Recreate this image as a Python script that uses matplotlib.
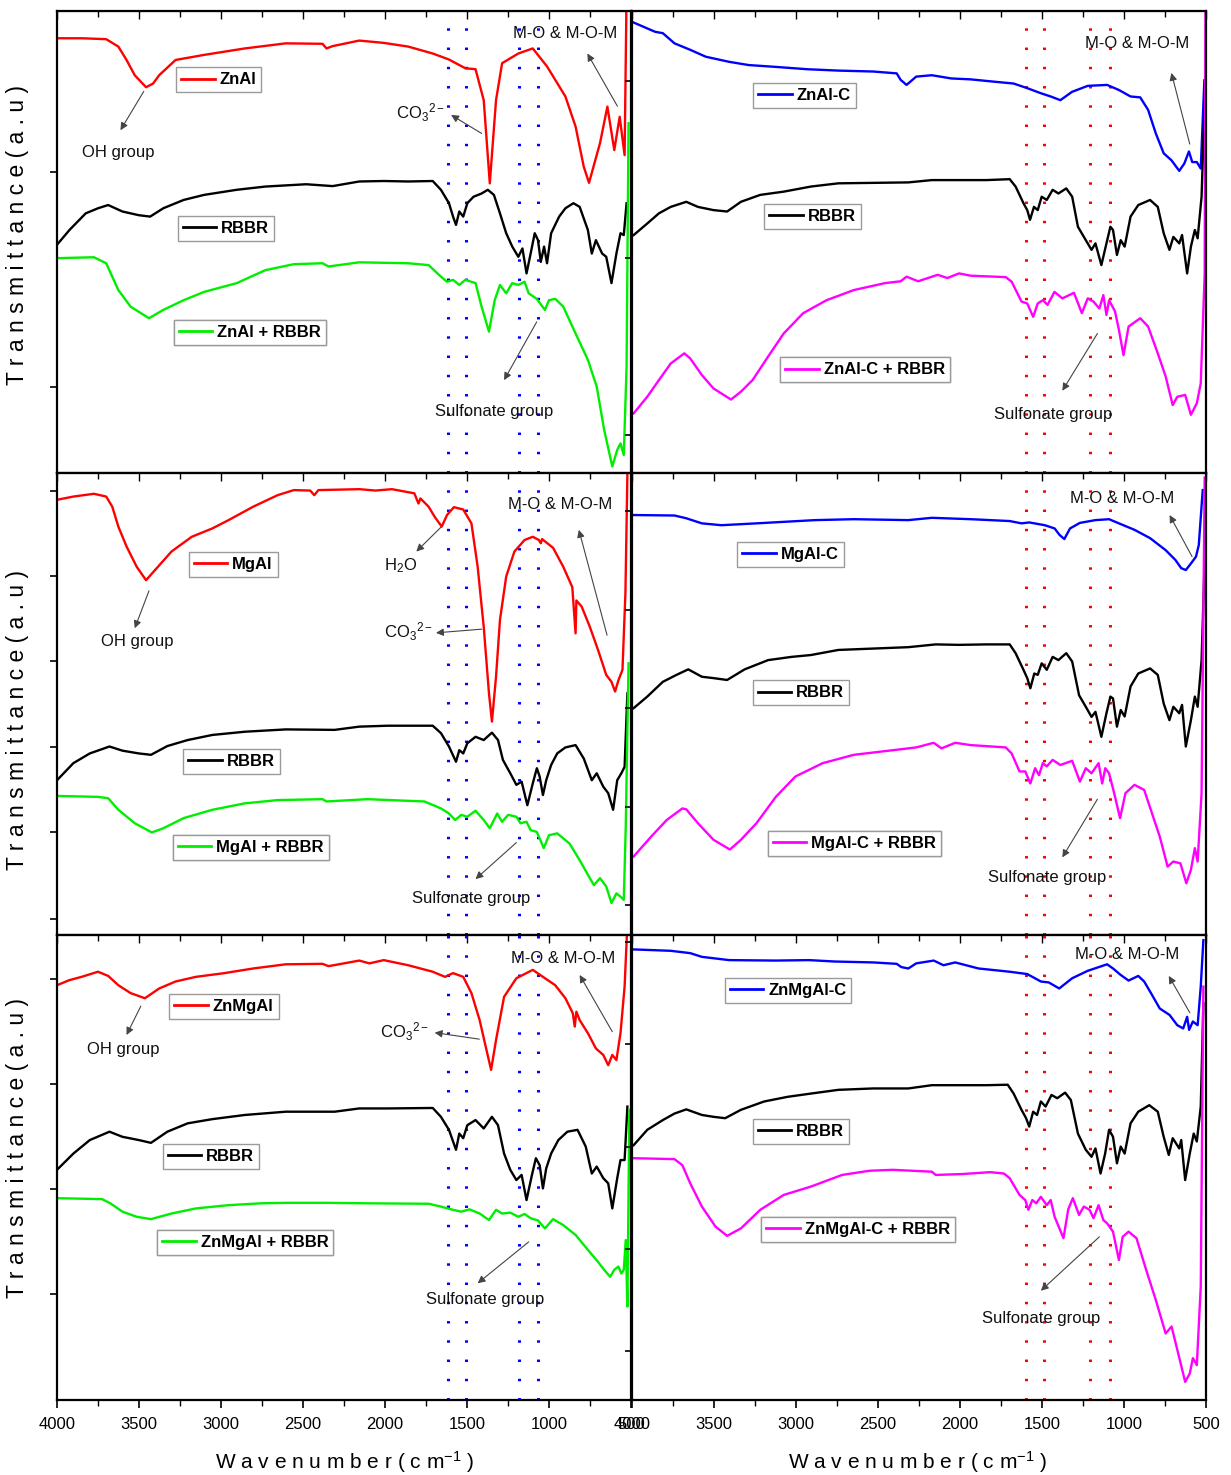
import numpy as np
import matplotlib
matplotlib.use("Agg")
import matplotlib.pyplot as plt
from matplotlib.lines import Line2D
from matplotlib.ticker import MultipleLocator

plt.rcParams["font.family"] = ["Liberation Sans", "DejaVu Sans"]
plt.rcParams["mathtext.fontset"] = "custom"
plt.rcParams["mathtext.rm"] = "Liberation Sans"
plt.rcParams["mathtext.it"] = "Liberation Sans:italic"
plt.rcParams["mathtext.bf"] = "Liberation Sans:bold"

# ---- spectra (wavenumber cm-1, transmittance a.u.) ----
ZNAL = [(4000, 94.1), (3850, 94.1), (3700, 93.9), (3626, 92.3), (3576, 89.4), (3526, 86.1),
        (3457, 83.5), (3414, 84.3), (3377, 86.1), (3277, 89.4), (3103, 90.5), (2854, 91.9),
        (2605, 93.0), (2381, 92.9), (2357, 91.9), (2319, 92.4), (2157, 93.6), (2008, 93.1),
        (1859, 92.3), (1709, 90.8), (1610, 89.5), (1510, 87.6), (1448, 87.4), (1398, 80.7),
        (1361, 62.7), (1323, 80.7), (1286, 88.7), (1187, 90.8), (1099, 91.9), (1012, 88.0),
        (900, 81.5), (838, 75.0), (788, 66.3), (756, 62.8), (689, 71.4), (644, 79.3),
        (602, 69.9), (569, 77.1), (539, 68.8), (527, 104)]
RBBR_ZNAL = [(4000, 49.4), (3924, 52.6), (3825, 56.2), (3750, 57.3), (3688, 58.0), (3601, 56.6),
             (3501, 55.8), (3432, 55.5), (3352, 57.3), (3228, 59.1), (3103, 60.2), (2904, 61.3),
             (2730, 62.0), (2481, 62.5), (2319, 62.1), (2157, 63.1), (2008, 63.2), (1859, 63.1),
             (1709, 63.2), (1659, 61.3), (1610, 58.4), (1585, 55.5), (1567, 53.7), (1547, 56.6),
             (1523, 55.5), (1498, 58.4), (1460, 59.8), (1411, 60.5), (1373, 61.3), (1336, 60.2),
             (1299, 56.2), (1261, 51.9), (1224, 49.0), (1187, 46.8), (1162, 48.6), (1137, 43.2),
             (1112, 47.5), (1087, 51.9), (1067, 50.4), (1050, 45.7), (1030, 49.0), (1012, 45.4),
             (987, 51.9), (938, 55.5), (900, 57.3), (851, 58.4), (813, 57.6), (763, 52.6),
             (739, 47.5), (714, 50.4), (676, 47.5), (651, 46.8), (619, 41.1), (589, 47.5),
             (564, 51.9), (544, 51.5), (527, 58.4)]
ZNAL_RBBR = [(4000, 46.5), (3775, 46.7), (3700, 45.4), (3626, 39.6), (3551, 36.0), (3439, 33.5),
             (3352, 35.3), (3228, 37.4), (3103, 39.2), (2904, 41.1), (2730, 43.9), (2556, 45.2),
             (2381, 45.4), (2344, 44.7), (2157, 45.6), (1859, 45.4), (1734, 45.0), (1659, 42.5),
             (1622, 41.4), (1585, 41.8), (1547, 40.7), (1510, 41.8), (1448, 41.1), (1411, 36.0),
             (1366, 30.6), (1331, 37.4), (1299, 40.7), (1261, 38.9), (1224, 41.1), (1187, 40.7),
             (1149, 41.4), (1124, 38.9), (1075, 37.7), (1025, 35.3), (1000, 37.4), (962, 37.7),
             (913, 36.0), (838, 30.2), (763, 24.5), (709, 18.7), (664, 9.4), (614, 1.4),
             (584, 5.0), (564, 6.4), (544, 3.9), (527, 23.0), (515, 75.7)]

ZNALC = [(3990, 97.5), (3931, 96.6), (3859, 95.5), (3812, 95.2), (3741, 93.0), (3645, 91.6),
         (3550, 90.1), (3408, 89.0), (3289, 88.3), (3123, 87.9), (2933, 87.4), (2742, 87.1),
         (2529, 86.9), (2386, 86.5), (2362, 85.1), (2326, 84.0), (2303, 84.7), (2267, 85.8),
         (2172, 86.1), (2053, 85.4), (1934, 85.2), (1792, 84.7), (1673, 84.3), (1590, 83.3),
         (1507, 82.2), (1447, 81.5), (1388, 80.7), (1317, 82.5), (1221, 83.8), (1103, 84.0),
         (1031, 82.9), (960, 81.5), (901, 81.3), (853, 78.6), (806, 73.5), (758, 69.2),
         (711, 67.7), (663, 65.4), (632, 67.0), (604, 69.6), (584, 67.3), (556, 67.3),
         (532, 65.9), (510, 85.0)]
RBBR_ZNALC = [(3990, 51.5), (3907, 54.0), (3836, 56.2), (3764, 57.6), (3669, 58.7), (3598, 57.6),
              (3503, 56.9), (3420, 56.6), (3336, 58.7), (3218, 60.2), (3075, 60.9), (2909, 62.0),
              (2742, 62.7), (2529, 62.8), (2315, 62.9), (2172, 63.4), (2006, 63.4), (1839, 63.4),
              (1697, 63.6), (1661, 62.0), (1613, 58.4), (1590, 56.9), (1573, 54.8), (1549, 57.6),
              (1526, 56.9), (1502, 59.8), (1471, 59.1), (1435, 61.3), (1400, 60.5), (1352, 61.6),
              (1316, 59.8), (1281, 53.3), (1233, 50.4), (1198, 48.3), (1174, 49.7), (1138, 45.0),
              (1107, 49.7), (1083, 53.3), (1067, 52.6), (1043, 47.2), (1020, 50.4), (996, 49.0),
              (960, 55.5), (913, 58.0), (841, 59.1), (794, 57.6), (758, 51.9), (723, 48.3),
              (699, 51.1), (663, 49.7), (646, 51.5), (615, 43.2), (592, 49.0), (568, 52.6),
              (551, 50.8), (527, 59.8), (508, 80.7)]
ZNALC_RBBR = [(3990, 12.9), (3907, 16.5), (3836, 20.1), (3764, 23.7), (3681, 25.9), (3645, 24.8),
              (3574, 21.2), (3503, 18.3), (3396, 15.9), (3336, 17.6), (3265, 20.1), (3170, 25.2),
              (3075, 30.2), (2956, 34.6), (2814, 37.4), (2647, 39.6), (2457, 41.1), (2362, 41.5),
              (2326, 42.5), (2255, 41.5), (2136, 42.9), (2077, 42.2), (2006, 43.2), (1934, 42.7),
              (1721, 42.4), (1685, 41.4), (1625, 37.1), (1590, 36.7), (1554, 33.8), (1526, 36.7),
              (1495, 37.4), (1466, 36.4), (1424, 39.2), (1376, 37.8), (1305, 39.0), (1257, 34.6),
              (1221, 37.8), (1186, 37.1), (1150, 35.6), (1126, 38.5), (1107, 34.2), (1091, 37.4),
              (1055, 35.0), (1031, 31.0), (1003, 25.5), (972, 31.7), (901, 33.5), (853, 31.7),
              (794, 25.9), (746, 20.9), (703, 14.7), (675, 16.5), (627, 16.9), (592, 12.6),
              (556, 15.1), (532, 19.4), (508, 43.2), (503, 104)]

MGAL = [(4000, 94.2), (3900, 94.9), (3775, 95.5), (3700, 94.9), (3663, 92.7), (3626, 88.4),
        (3576, 84.1), (3514, 79.7), (3457, 76.8), (3402, 79.0), (3302, 83.0), (3178, 86.2),
        (3053, 88.0), (2954, 89.8), (2804, 92.7), (2655, 95.2), (2556, 96.3), (2456, 96.2),
        (2431, 95.2), (2406, 96.3), (2157, 96.5), (2058, 96.2), (1958, 96.5), (1821, 95.6),
        (1796, 93.4), (1784, 94.5), (1734, 92.7), (1697, 90.5), (1654, 88.4), (1622, 90.9),
        (1580, 92.6), (1523, 92.1), (1473, 89.1), (1435, 79.7), (1398, 66.7), (1366, 52.3),
        (1348, 46.2), (1323, 55.9), (1299, 68.2), (1261, 77.6), (1211, 83.0), (1149, 85.5),
        (1099, 86.2), (1062, 85.5), (1050, 84.8), (1042, 85.7), (975, 83.8), (913, 79.7),
        (858, 75.3), (838, 65.3), (833, 72.4), (801, 71.1), (751, 66.7), (701, 61.7),
        (651, 56.3), (619, 54.8), (597, 52.7), (577, 55.1), (552, 57.4), (534, 74.0),
        (520, 104)]
RBBR_MGAL = [(4000, 33.5), (3900, 37.2), (3800, 39.3), (3680, 40.8), (3601, 39.9), (3501, 39.3),
             (3427, 39.0), (3327, 40.9), (3203, 42.2), (3053, 43.3), (2854, 44.0), (2605, 44.5),
             (2307, 44.4), (2157, 45.1), (1983, 45.3), (1709, 45.3), (1659, 43.7), (1610, 40.8),
             (1567, 37.5), (1547, 40.0), (1523, 39.3), (1498, 41.5), (1448, 42.9), (1398, 42.2),
             (1348, 43.8), (1311, 42.2), (1281, 37.9), (1236, 35.0), (1199, 32.5), (1167, 33.2),
             (1132, 28.1), (1099, 32.8), (1074, 36.1), (1057, 34.3), (1037, 30.3), (1017, 33.5),
             (987, 36.8), (950, 39.3), (900, 40.6), (838, 41.1), (788, 38.2), (739, 33.5),
             (709, 35.0), (669, 32.1), (639, 30.7), (609, 27.1), (584, 33.5), (559, 35.0),
             (539, 36.4), (522, 52.3)]
MGAL_RBBR = [(4000, 30.1), (3750, 29.9), (3688, 29.6), (3626, 27.1), (3526, 24.2), (3422, 22.2),
             (3352, 23.1), (3228, 25.3), (3053, 27.1), (2854, 28.5), (2655, 29.2), (2381, 29.4),
             (2357, 28.9), (2107, 29.4), (1759, 28.9), (1659, 27.4), (1610, 26.3), (1572, 24.9),
             (1535, 26.0), (1498, 25.6), (1448, 26.9), (1398, 24.9), (1361, 23.1), (1316, 26.3),
             (1286, 24.5), (1249, 26.0), (1199, 25.6), (1174, 24.2), (1137, 24.5), (1112, 22.7),
             (1074, 22.3), (1032, 18.8), (1000, 21.6), (950, 22.0), (875, 19.8), (813, 16.2),
             (751, 12.3), (726, 10.8), (689, 12.3), (651, 10.5), (619, 6.9), (589, 9.0),
             (564, 8.3), (544, 7.6), (532, 23.4), (515, 58.8)]

MGALC = [(3990, 90.9), (3741, 90.8), (3669, 90.2), (3574, 89.1), (3455, 88.7), (3241, 89.1),
         (2885, 89.8), (2647, 90.0), (2315, 89.8), (2172, 90.3), (1934, 90.0), (1697, 89.6),
         (1625, 89.1), (1578, 89.3), (1483, 88.7), (1423, 88.0), (1393, 86.6), (1364, 85.7),
         (1329, 88.0), (1269, 89.2), (1174, 89.8), (1091, 90.0), (1031, 89.1), (936, 87.7),
         (841, 85.9), (746, 83.3), (687, 81.2), (651, 79.4), (623, 79.0), (592, 80.4),
         (561, 81.9), (544, 84.4), (520, 96.3)]
RBBR_MGALC = [(3990, 49.1), (3907, 51.6), (3812, 54.8), (3729, 56.3), (3657, 57.5), (3574, 55.9),
              (3503, 55.6), (3420, 55.2), (3313, 57.5), (3170, 59.5), (3027, 60.2), (2909, 60.6),
              (2742, 61.7), (2529, 62.0), (2315, 62.3), (2148, 62.9), (2006, 62.8), (1839, 62.9),
              (1697, 62.9), (1661, 61.0), (1613, 57.4), (1590, 55.6), (1571, 53.4), (1547, 56.6),
              (1526, 56.3), (1502, 58.8), (1471, 57.4), (1435, 60.2), (1400, 59.5), (1352, 61.0),
              (1316, 59.2), (1274, 51.9), (1233, 49.4), (1198, 47.2), (1174, 48.3), (1138, 42.9),
              (1107, 48.0), (1083, 51.6), (1067, 51.2), (1043, 45.1), (1020, 48.7), (996, 47.3),
              (960, 53.8), (913, 56.6), (841, 57.7), (794, 56.3), (758, 50.1), (723, 46.5),
              (699, 49.4), (663, 48.0), (646, 49.8), (623, 40.8), (592, 46.5), (568, 51.6),
              (551, 49.4), (527, 59.5), (508, 81.2)]
MGALC_RBBR = [(3990, 17.0), (3883, 21.3), (3788, 24.9), (3693, 27.4), (3669, 27.2), (3598, 24.2),
              (3503, 20.6), (3403, 18.5), (3336, 20.6), (3241, 24.2), (3123, 29.9), (3004, 34.3),
              (2837, 37.2), (2647, 39.0), (2457, 39.8), (2267, 40.6), (2160, 41.6), (2113, 40.4),
              (2029, 41.6), (1934, 41.1), (1721, 40.6), (1685, 39.3), (1637, 35.4), (1602, 35.4),
              (1571, 32.8), (1542, 36.1), (1518, 34.6), (1495, 37.2), (1471, 36.5), (1435, 37.9),
              (1388, 36.8), (1316, 37.7), (1269, 33.2), (1233, 36.1), (1198, 35.0), (1155, 37.2),
              (1133, 32.8), (1114, 36.1), (1091, 35.0), (1060, 30.7), (1024, 25.3), (991, 30.7),
              (936, 32.5), (877, 31.4), (829, 26.3), (782, 21.3), (734, 14.8), (699, 15.9),
              (656, 15.5), (620, 11.2), (592, 14.1), (568, 18.8), (551, 15.9), (527, 30.7),
              (508, 99.0)]

ZNMGAL = [(4000, 89.2), (3924, 90.3), (3850, 91.0), (3750, 92.1), (3688, 91.2), (3626, 89.2),
          (3551, 87.5), (3464, 86.4), (3377, 88.5), (3277, 90.0), (3153, 91.0), (2979, 91.8),
          (2804, 92.8), (2605, 93.7), (2381, 93.8), (2344, 93.3), (2157, 94.5), (2095, 93.9),
          (2008, 94.6), (1859, 93.5), (1709, 92.1), (1634, 91.0), (1585, 91.8), (1523, 91.0),
          (1473, 87.5), (1423, 81.7), (1386, 76.0), (1353, 71.0), (1323, 77.4), (1274, 86.7),
          (1199, 90.7), (1099, 92.5), (1037, 91.0), (962, 89.2), (900, 86.4), (855, 83.2),
          (843, 80.3), (833, 83.5), (813, 81.7), (763, 78.9), (714, 75.6), (669, 74.2),
          (639, 72.0), (614, 74.2), (589, 73.1), (564, 78.9), (539, 88.9), (520, 104)]
RBBR_ZNMGAL = [(4000, 49.5), (3900, 53.0), (3800, 55.9), (3680, 57.7), (3601, 56.6), (3501, 55.9),
               (3427, 55.3), (3327, 57.7), (3203, 59.5), (3053, 60.4), (2854, 61.3), (2605, 62.0),
               (2307, 62.0), (2157, 62.7), (1983, 62.7), (1709, 62.8), (1659, 60.9), (1610, 58.1),
               (1567, 53.8), (1547, 57.3), (1523, 56.3), (1498, 59.1), (1448, 60.2), (1398, 58.4),
               (1348, 60.9), (1311, 59.1), (1274, 53.0), (1236, 49.5), (1199, 47.3), (1167, 48.4),
               (1137, 43.0), (1104, 48.4), (1080, 52.0), (1057, 50.5), (1037, 45.5), (1017, 49.8),
               (987, 53.0), (943, 55.9), (888, 57.7), (826, 58.1), (776, 54.5), (739, 48.7),
               (709, 50.2), (669, 47.7), (639, 46.6), (614, 41.2), (584, 47.7), (564, 51.6),
               (539, 51.6), (522, 63.1)]
ZNMGAL_RBBR = [(4000, 43.4), (3725, 43.2), (3675, 42.3), (3601, 40.5), (3514, 39.4), (3427, 38.9),
               (3302, 40.1), (3153, 41.2), (2954, 41.9), (2755, 42.3), (2605, 42.4), (2357, 42.4),
               (2107, 42.3), (1734, 42.2), (1659, 41.6), (1585, 40.9), (1535, 40.5), (1485, 41.0),
               (1423, 40.1), (1366, 38.7), (1323, 40.9), (1286, 40.1), (1236, 40.3), (1187, 39.4),
               (1149, 40.0), (1112, 39.1), (1067, 38.6), (1025, 36.9), (975, 38.9), (913, 37.6),
               (838, 35.5), (763, 32.3), (701, 29.7), (664, 28.0), (627, 26.5), (602, 28.0),
               (577, 28.7), (559, 27.2), (544, 28.0), (532, 34.4), (522, 20.1), (510, 62.4)]

ZNMGALC = [(3990, 96.9), (3764, 96.6), (3645, 96.1), (3574, 95.3), (3408, 94.6), (3123, 94.5),
           (2921, 94.6), (2766, 94.3), (2529, 94.1), (2386, 93.8), (2358, 93.1), (2315, 92.8),
           (2267, 93.9), (2160, 94.5), (2101, 93.5), (2029, 94.1), (1887, 92.8), (1697, 92.1),
           (1590, 91.6), (1507, 90.0), (1459, 89.8), (1395, 88.5), (1316, 90.7), (1221, 92.3),
           (1103, 93.7), (1067, 92.8), (1020, 91.4), (972, 90.2), (913, 91.2), (877, 90.0),
           (829, 87.1), (782, 84.2), (722, 82.8), (675, 80.6), (639, 79.9), (615, 82.4),
           (603, 79.6), (580, 81.4), (551, 80.6), (532, 88.9), (516, 98.9)]
RBBR_ZNMGALC = [(3990, 54.8), (3907, 58.1), (3812, 60.2), (3741, 61.6), (3669, 62.5), (3574, 61.3),
                (3503, 60.9), (3432, 60.6), (3336, 62.4), (3194, 64.2), (3051, 65.2), (2909, 65.9),
                (2742, 66.7), (2529, 67.0), (2315, 67.0), (2172, 67.7), (2006, 67.7), (1839, 67.7),
                (1709, 67.8), (1673, 65.9), (1625, 62.4), (1597, 60.6), (1578, 58.8), (1554, 62.0),
                (1530, 61.3), (1507, 64.2), (1478, 63.1), (1442, 65.6), (1407, 64.9), (1359, 66.1),
                (1324, 64.5), (1281, 57.3), (1233, 53.8), (1198, 52.3), (1174, 54.1), (1143, 48.7),
                (1115, 53.0), (1091, 58.1), (1067, 56.6), (1043, 50.9), (1020, 54.5), (996, 53.0),
                (960, 59.5), (913, 62.0), (846, 63.4), (794, 62.0), (758, 56.6), (727, 52.7),
                (703, 56.3), (663, 54.1), (651, 55.9), (627, 47.3), (599, 53.0), (575, 57.3),
                (556, 55.6), (532, 63.1), (516, 85.3)]
ZNMGALC_RBBR = [(3990, 52.0), (3741, 51.8), (3693, 50.5), (3645, 46.6), (3574, 41.6), (3491, 37.3),
                (3420, 35.3), (3336, 36.9), (3218, 40.9), (3075, 44.1), (2909, 45.9), (2719, 48.4),
                (2552, 49.3), (2410, 49.5), (2172, 49.1), (2148, 48.4), (1982, 48.6), (1816, 49.0),
                (1732, 48.7), (1697, 47.7), (1637, 44.1), (1602, 43.0), (1583, 40.9), (1559, 43.0),
                (1535, 42.3), (1507, 43.7), (1471, 41.9), (1447, 43.0), (1423, 39.4), (1369, 34.8),
                (1340, 41.0), (1312, 43.4), (1274, 39.8), (1245, 41.6), (1210, 40.9), (1186, 39.1),
                (1155, 41.9), (1126, 38.7), (1103, 38.0), (1067, 36.2), (1031, 30.1), (1008, 35.1),
                (972, 36.2), (924, 34.8), (865, 28.0), (806, 21.5), (746, 14.3), (710, 15.8),
                (675, 10.8), (627, 3.9), (599, 5.7), (580, 9.0), (556, 7.5), (532, 24.4),
                (516, 88.9)]

# band positions marked with dotted lines
BANDS_LEFT = [1615, 1505, 1185, 1070]
BANDS_RIGHT = [1595, 1490, 1210, 1085]
X_TICKS = [4000, 3500, 3000, 2500, 2000, 1500, 1000, 500]

RED, BLACK, GREEN, BLUE, MAGENTA = "#ff0000", "#000000", "#00ee00", "#0000ff", "#ff00ff"
CO3 = "CO$_3$$^{2-}$"
MOM = "M-O & M-O-M"
SULF = "Sulfonate group"

# panel layout: curves, legend centres (axes fraction), labels, arrows (tail -> head)
panels = [
    dict(row=0, col=0, bands=BANDS_LEFT, band_color=BLUE, yticks=[18.6, 65.2],
         curves=[("ZnAl", ZNAL, RED), ("RBBR", RBBR_ZNAL, BLACK), ("ZnAl + RBBR", ZNAL_RBBR, GREEN)],
         legends=[(0.282, 0.851), (0.294, 0.530), (0.336, 0.305)],
         texts=[("OH group", 3628, 69.3), (CO3, 1786, 77.9), (MOM, 902, 95.2), (SULF, 1335, 13.3)],
         arrows=[((3471, 82.6), (3613, 74.2)), ((1411, 73.5), (1597, 77.5)),
                 ((583, 79.4), (766, 90.8)), ((1075, 32.7), (1274, 20.1))]),
    dict(row=0, col=1, bands=BANDS_RIGHT, band_color=RED, yticks=[8.2, 46.5, 84.8],
         curves=[("ZnAl-C", ZNALC, BLUE), ("RBBR", RBBR_ZNALC, BLACK), ("ZnAl-C + RBBR", ZNALC_RBBR, MAGENTA)],
         legends=[(0.3005, 0.818), (0.3145, 0.555), (0.406, 0.223)],
         texts=[(MOM, 920, 93.0), (SULF, 1435, 12.6)],
         arrows=[((599, 71.2), (711, 86.6)), ((1162, 30.2), (1376, 17.8))]),
    dict(row=1, col=0, bands=BANDS_LEFT, band_color=BLUE, yticks=[3.4, 22.2, 40.8, 59.2, 77.7, 96.2],
         curves=[("MgAl", MGAL, RED), ("RBBR", RBBR_MGAL, BLACK), ("MgAl + RBBR", MGAL_RBBR, GREEN)],
         legends=[(0.307, 0.802), (0.304, 0.3755), (0.338, 0.190)],
         texts=[("OH group", 3508, 63.5), ("H$_2$O", 1908, 79.9), (CO3, 1860, 65.6),
                (MOM, 933, 93.2), (SULF, 1473, 7.9)],
         arrows=[((3439, 74.5), (3526, 66.4)), ((1655, 88.4), (1809, 83.0)),
                 ((1411, 66.2), (1689, 65.4)), ((646, 64.9), (818, 87.7)),
                 ((1199, 20.0), (1448, 12.1))]),
    dict(row=1, col=1, bands=BANDS_RIGHT, band_color=RED, yticks=[6.5, 27.8, 49.1, 70.4, 91.7],
         curves=[("MgAl-C", MGALC, BLUE), ("RBBR", RBBR_MGALC, BLACK), ("MgAl-C + RBBR", MGALC_RBBR, MAGENTA)],
         legends=[(0.276, 0.8236), (0.294, 0.524), (0.387, 0.199)],
         texts=[(MOM, 1012, 94.4), (SULF, 1471, 12.5)],
         arrows=[((585, 81.9), (722, 90.9)), ((1162, 29.4), (1376, 16.8))]),
    dict(row=2, col=0, bands=BANDS_LEFT, band_color=BLUE, yticks=[22.7, 45.3, 67.9, 90.5],
         curves=[("ZnMgAl", ZNMGAL, RED), ("RBBR", RBBR_ZNMGAL, BLACK), ("ZnMgAl + RBBR", ZNMGAL_RBBR, GREEN)],
         legends=[(0.291, 0.847), (0.268, 0.524), (0.328, 0.338)],
         texts=[("OH group", 3596, 75.3), (CO3, 1884, 79.2), (MOM, 912, 95.0), (SULF, 1391, 21.7)],
         arrows=[((3489, 84.7), (3576, 78.5)), ((1425, 77.6), (1697, 79.0)),
                 ((614, 79.2), (813, 91.4)), ((1124, 34.0), (1435, 25.1))]),
    dict(row=2, col=1, bands=BANDS_RIGHT, band_color=RED, yticks=[10.5, 32.5, 54.5, 76.5, 98.5],
         curves=[("ZnMgAl-C", ZNMGALC, BLUE), ("RBBR", RBBR_ZNMGALC, BLACK),
                 ("ZnMgAl-C + RBBR", ZNMGALC_RBBR, MAGENTA)],
         legends=[(0.272, 0.880), (0.294, 0.577), (0.394, 0.366)],
         texts=[(MOM, 979, 95.7), (SULF, 1507, 17.6)],
         arrows=[((599, 83.3), (727, 91.2)), ((1150, 35.1), (1507, 23.5))]),
]

W, H = 1231, 1475
fig = plt.figure(figsize=(W / 100, H / 100), dpi=100)

col_x = [57, 632]
col_w = 574
row_top = [11, 473, 935]
row_h = [462, 462, 465]

for p in panels:
    r, c = p["row"], p["col"]
    ax = fig.add_axes([col_x[c] / W, 1 - (row_top[r] + row_h[r]) / H, col_w / W, row_h[r] / H])
    ax.set_xlim(4000, 500)
    ax.set_ylim(0, 100)

    for wn in p["bands"]:
        ax.axvline(wn, color=p["band_color"], lw=2.2, ls=(0, (0.8, 5.5)), zorder=1)

    for label, pts, color in p["curves"]:
        arr = np.array(pts, dtype=float)
        ax.plot(arr[:, 0], arr[:, 1], color=color, lw=1.7, zorder=2)

    for (label, pts, color), (fx, fy) in zip(p["curves"], p["legends"]):
        h = Line2D([], [], color=color, lw=2)
        leg = ax.legend([h], [label], loc="center", bbox_to_anchor=(fx, fy),
                        bbox_transform=ax.transAxes, fancybox=False, framealpha=1,
                        edgecolor="#9a9a9a", handlelength=2.0, handletextpad=0.3,
                        borderpad=0.3, prop=dict(weight="bold", size=12))
        leg.get_frame().set_linewidth(1.0)
        ax.add_artist(leg)

    for txt, x, y in p["texts"]:
        ax.text(x, y, txt, ha="center", va="center", fontsize=12, color="#111111", zorder=4)
    for tail, head in p["arrows"]:
        ax.annotate("", xy=head, xytext=tail,
                    arrowprops=dict(arrowstyle="-|>", color="#444444", lw=0.8,
                                    mutation_scale=11, shrinkA=0, shrinkB=0), zorder=4)

    for s in ax.spines.values():
        s.set_linewidth(1.6)
    ax.set_xticks(X_TICKS)
    ax.xaxis.set_minor_locator(MultipleLocator(250))
    ax.tick_params(axis="x", which="major", direction="out", length=6, width=1.2,
                   labelbottom=(r == 2), labelsize=12, pad=6)
    ax.tick_params(axis="x", which="minor", direction="out", length=4, width=1.0)
    ax.set_yticks(p["yticks"])
    ax.tick_params(axis="y", direction="out", length=5, width=1.2, labelleft=False)

    top = ax.secondary_xaxis("top")
    top.set_xticks(X_TICKS)
    top.xaxis.set_minor_locator(MultipleLocator(250))
    top.tick_params(which="both", direction="in", labeltop=False, width=1.0)
    top.tick_params(which="major", length=6)
    top.tick_params(which="minor", length=4)

ylabel = " ".join("Transmittance(a.u)")
for yc in [235, 720, 1148]:
    fig.text(18 / W, 1 - yc / H, ylabel, rotation=90, ha="center", va="center", fontsize=16.5)

xlabel = " ".join("Wavenumber(cm") + "$^{-1}$ )"
for xc in [345, 918]:
    fig.text(xc / W, 1 - 1462 / H, xlabel, ha="center", va="center", fontsize=15)

fig.savefig("out.png", dpi=100)
